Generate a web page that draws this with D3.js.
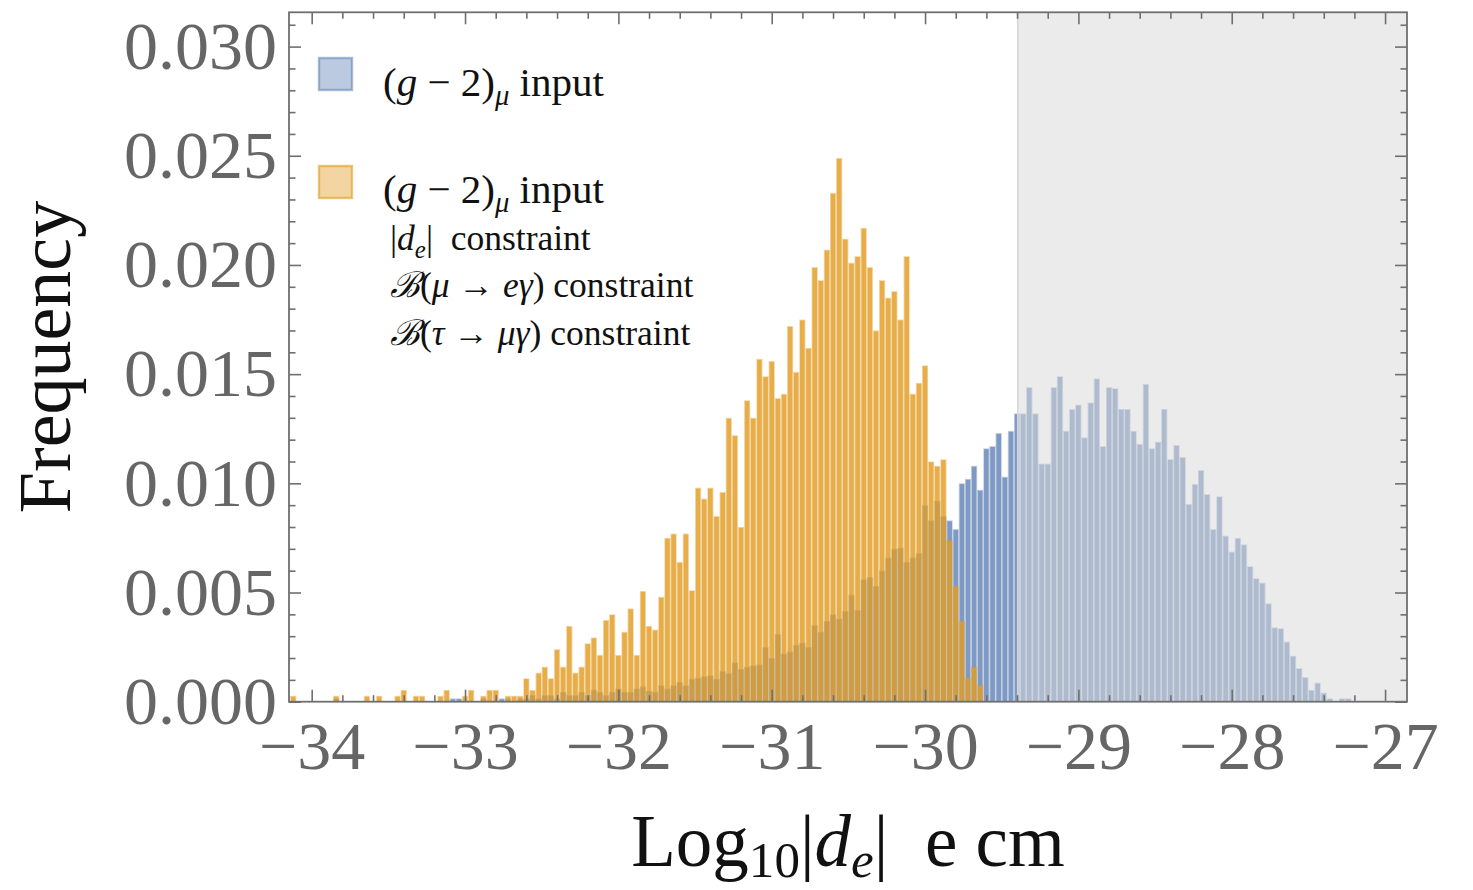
<!DOCTYPE html>
<html>
<head>
<meta charset="utf-8">
<script src="https://cdn.jsdelivr.net/npm/d3@7"></script>
<style>
  body { margin: 0; background: #fff; }
  svg { display: block; }
  text { font-family: "Liberation Serif", "Times New Roman", serif; white-space: pre; }
</style>
</head>
<body>
<svg id="chart" width="1473" height="890"></svg>
<script>

// histogram bins: lower edge of bin 0 and the common bin width (Log10 units)
var binStart = -34.14
var binWidth = 0.04

// bin heights, frequency x 1000
var orangeFreq = [
  0.27, 0, 0, 0, 0, 0, 0, 0.27, 0, 0,
  0, 0, 0.27, 0, 0.27, 0, 0, 0.27, 0.54, 0,
  0.27, 0.27, 0, 0, 0.27, 0.54, 0, 0, 0.27, 0.54,
  0, 0.27, 0.54, 0.54, 0, 0.27, 0.27, 0.27, 1.07, 0.54,
  1.33, 1.6, 1.07, 2.4, 1.6, 3.47, 1.33, 1.6, 2.67, 2.94,
  2.14, 3.74, 4.0, 2.14, 3.2, 4.27, 2.14, 5.07, 3.47, 3.3,
  4.8, 7.5, 7.7, 6.4, 7.7, 5.1, 9.8, 9.3, 9.8, 8.5,
  9.6, 13.0, 12.2, 8.0, 13.8, 13.0, 15.7, 14.9, 15.6, 13.9,
  14.1, 17.2, 15.1, 17.5, 16.2, 19.9, 19.3, 20.7, 23.3, 24.9,
  21.2, 20.1, 20.4, 21.7, 19.9, 17.0, 19.3, 18.5, 18.8, 17.5,
  20.4, 14.1, 14.6, 15.4, 11.0, 10.8, 11.1, 7.4, 5.3, 3.7,
  1.1, 1.6, 0.76
]

var blueFreq = [
  0, 0, 0, 0, 0, 0, 0, 0.15, 0, 0,
  0, 0, 0, 0, 0, 0, 0, 0, 0, 0,
  0, 0, 0, 0, 0, 0, 0.15, 0.15, 0, 0,
  0, 0.15, 0, 0, 0.15, 0.15, 0, 0.15, 0.15, 0.3,
  0.15, 0.3, 0.3, 0.15, 0.45, 0.3, 0.3, 0.45, 0.3, 0.55,
  0.45, 0.3, 0.45, 0.6, 0.45, 0.45, 0.6, 0.7, 0.5, 0.45,
  0.75, 0.6, 0.75, 0.9, 0.75, 1.05, 1.1, 1.16, 1.2, 1.05,
  1.4, 1.3, 1.8, 1.5, 1.6, 1.66, 1.7, 2.5, 2.0, 3.1,
  2.2, 2.3, 2.6, 2.7, 2.5, 3.5, 3.2, 3.7, 4.0, 3.8,
  4.15, 4.9, 4.2, 5.6, 5.7, 5.3, 6.0, 6.6, 7.0, 7.05,
  6.4, 6.6, 6.8, 9.0, 8.3, 9.2, 8.5, 8.3, 7.9, 10.0,
  10.2, 10.8, 9.7, 11.6, 11.7, 12.3, 10.3, 12.4, 13.2, 13.2,
  14.4, 13.2, 10.9, 10.9, 14.4, 14.9, 12.4, 13.4, 13.6, 12.1,
  13.7, 14.8, 11.7, 14.4, 14.35, 13.4, 13.4, 12.4, 11.8, 14.55,
  11.6, 11.9, 13.4, 11.1, 11.75, 11.2, 9.05, 9.97, 10.6, 9.5,
  7.9, 9.4, 7.6, 6.87, 7.5, 7.2, 6.2, 5.65, 5.45, 4.5,
  3.4, 3.36, 2.75, 2.1, 1.53, 1.12, 0.54, 0.87, 0.41, 0.15,
  0, 0.15, 0.15
]

var xTicks = [-34, -33, -32, -31, -30, -29, -28, -27]
var yTicks = [0, 0.005, 0.010, 0.015, 0.020, 0.025, 0.030]

// excluded region (grey band) starts here
var shadeFrom = -29.395

var blue = "#5e81b5"
var orange = "#e19c24"

var svg = d3.select("#chart")

var plotL = 289, plotR = 1407, plotT = 12.3, plotB = 701.7

var x = d3.scaleLinear().domain([-34.148, -26.857]).range([plotL, plotR])
var y = d3.scaleLinear().domain([0, 0.03157]).range([plotB, plotT])

svg.append("defs").append("clipPath").attr("id", "plotclip")
  .append("rect")
  .attr("x", plotL).attr("y", plotT)
  .attr("width", plotR - plotL).attr("height", plotB - plotT)

var plot = svg.append("g").attr("clip-path", "url(#plotclip)")

function toBins(values) {
  return values.map(function(v, i) {
    return { x0: binStart + i * binWidth, x1: binStart + (i + 1) * binWidth, f: v / 1000 }
  }).filter(function(d) { return d.f > 0 })
}

// bar face inset a little, lighter edge drawn in the gap
function drawBars(data, color, opacity) {
  var g = plot.append("g")
  var e = 0.7
  g.selectAll("rect.face").data(data).join("rect")
    .attr("class", "face")
    .attr("x", function(d) { return x(d.x0) + e })
    .attr("width", function(d) { return x(d.x1) - x(d.x0) - 2 * e })
    .attr("y", function(d) { return y(d.f) + e })
    .attr("height", function(d) { return Math.max(0, y(0) - y(d.f) - e) })
    .attr("fill", color)
    .attr("fill-opacity", opacity)
  g.selectAll("rect.edge").data(data).join("rect")
    .attr("class", "edge")
    .attr("x", function(d) { return x(d.x0) + e / 2 })
    .attr("width", function(d) { return x(d.x1) - x(d.x0) - e })
    .attr("y", function(d) { return y(d.f) + e / 2 })
    .attr("height", function(d) { return y(0) - y(d.f) })
    .attr("fill", "none")
    .attr("stroke", color)
    .attr("stroke-width", e)
    .attr("stroke-opacity", opacity * 0.5)
}

drawBars(toBins(blueFreq), blue, 0.8)
drawBars(toBins(orangeFreq), orange, 0.83)

// grey band lies over the bars
plot.append("rect")
  .attr("x", x(shadeFrom)).attr("y", plotT)
  .attr("width", plotR - x(shadeFrom)).attr("height", plotB - plotT)
  .attr("fill", "rgb(218,218,218)")
  .attr("fill-opacity", 0.53)

plot.append("line")
  .attr("x1", x(shadeFrom)).attr("x2", x(shadeFrom))
  .attr("y1", plotT).attr("y2", plotB)
  .attr("stroke", "#d8d8d8")
  .attr("stroke-width", 1.6)

// frame and ticks
var axisColor = "#6f6f6f"
var xMinor = d3.range(36).map(function(i) { return -34 + i * 0.2 }).filter(function(v) { return Math.abs(v - Math.round(v)) > 1e-6 })
var yMinor = d3.range(32).map(function(i) { return i * 0.001 }).filter(function(v, i) { return i % 5 != 0 })

function styleAxis(g) {
  g.select(".domain").remove()
  g.selectAll("line").attr("stroke", axisColor).attr("stroke-width", 1.6)
  g.attr("color", "#666").attr("font-family", null).attr("font-size", 68)
}

svg.append("g").attr("transform", "translate(0," + plotB + ")")
  .call(d3.axisBottom(x).tickValues(xMinor).tickSize(-6.5).tickFormat(""))
  .call(styleAxis)
svg.append("g").attr("transform", "translate(0," + plotB + ")")
  .call(d3.axisBottom(x).tickValues(xTicks).tickSize(-12).tickPadding(19)
    .tickFormat(function(d) { return "\u2212" + Math.abs(d) }))
  .call(styleAxis)

svg.append("g").attr("transform", "translate(0," + plotT + ")")
  .call(d3.axisTop(x).tickValues(xMinor).tickSize(-6.5).tickFormat(""))
  .call(styleAxis)
svg.append("g").attr("transform", "translate(0," + plotT + ")")
  .call(d3.axisTop(x).tickValues(xTicks).tickSize(-12).tickFormat(""))
  .call(styleAxis)

svg.append("g").attr("transform", "translate(" + plotL + ",0)")
  .call(d3.axisLeft(y).tickValues(yMinor).tickSize(-6.5).tickFormat(""))
  .call(styleAxis)
svg.append("g").attr("transform", "translate(" + plotL + ",0)")
  .call(d3.axisLeft(y).tickValues(yTicks).tickSize(-12).tickPadding(12).tickFormat(d3.format(".3f")))
  .call(styleAxis)

svg.append("g").attr("transform", "translate(" + plotR + ",0)")
  .call(d3.axisRight(y).tickValues(yMinor).tickSize(-6.5).tickFormat(""))
  .call(styleAxis)
svg.append("g").attr("transform", "translate(" + plotR + ",0)")
  .call(d3.axisRight(y).tickValues(yTicks).tickSize(-12).tickFormat(""))
  .call(styleAxis)

svg.append("rect")
  .attr("x", plotL).attr("y", plotT)
  .attr("width", plotR - plotL).attr("height", plotB - plotT)
  .attr("fill", "none")
  .attr("stroke", axisColor)
  .attr("stroke-width", 1.8)

// text with italic / subscript pieces
function richText(sel, parts, size, drop) {
  var shift = 0
  parts.forEach(function(p) {
    var target = p.sub ? size * drop : 0
    sel.append("tspan")
      .attr("dy", target - shift)
      .attr("font-size", p.sub ? size * 0.7 : size)
      .attr("font-style", p.it ? "italic" : "normal")
      .text(p.t)
    shift = target
  })
}

var xTitle = svg.append("text")
  .attr("x", 848).attr("y", 866)
  .attr("text-anchor", "middle")
  .attr("fill", "#111")
richText(xTitle, [
  { t: "Log" }, { t: "10", sub: true }, { t: "|" }, { t: "d", it: true },
  { t: "e", it: true, sub: true }, { t: "|  e cm" }
], 73, 0.15)

svg.append("text")
  .attr("transform", "translate(70,357) rotate(-90)")
  .attr("text-anchor", "middle")
  .attr("font-size", 74)
  .attr("fill", "#111")
  .text("Frequency")

// legend
var legend = svg.append("g")

legend.append("rect")
  .attr("x", 319).attr("y", 58).attr("width", 33).attr("height", 32)
  .attr("fill", blue).attr("fill-opacity", 0.42)
  .attr("stroke", blue).attr("stroke-opacity", 0.55).attr("stroke-width", 2.4)

legend.append("rect")
  .attr("x", 319).attr("y", 166).attr("width", 33).attr("height", 32)
  .attr("fill", orange).attr("fill-opacity", 0.42)
  .attr("stroke", orange).attr("stroke-opacity", 0.6).attr("stroke-width", 2.4)

var gm2 = [{ t: "(" }, { t: "g", it: true }, { t: " \u2212 2)" }, { t: "\u03bc", it: true, sub: true }, { t: " input" }]

var legendRows = [
  { y: 96, x: 383, size: 41, parts: gm2 },
  { y: 203, x: 383, size: 41, parts: gm2 },
  { y: 250, x: 390, size: 35.5, parts: [{ t: "|" }, { t: "d", it: true }, { t: "e", it: true, sub: true }, { t: "|  constraint" }] },
  { y: 297, x: 390, size: 35.5, parts: [{ t: "\u212c", it: true }, { t: "(" }, { t: "\u03bc", it: true }, { t: " \u2192 " }, { t: "e\u03b3", it: true }, { t: ") constraint" }] },
  { y: 345, x: 390, size: 35.5, parts: [{ t: "\u212c", it: true }, { t: "(" }, { t: "\u03c4", it: true }, { t: " \u2192 " }, { t: "\u03bc\u03b3", it: true }, { t: ") constraint" }] }
]

legendRows.forEach(function(r) {
  var t = legend.append("text").attr("x", r.x).attr("y", r.y).attr("fill", "#111")
  richText(t, r.parts, r.size, 0.22)
})

</script>
</body>
</html>
